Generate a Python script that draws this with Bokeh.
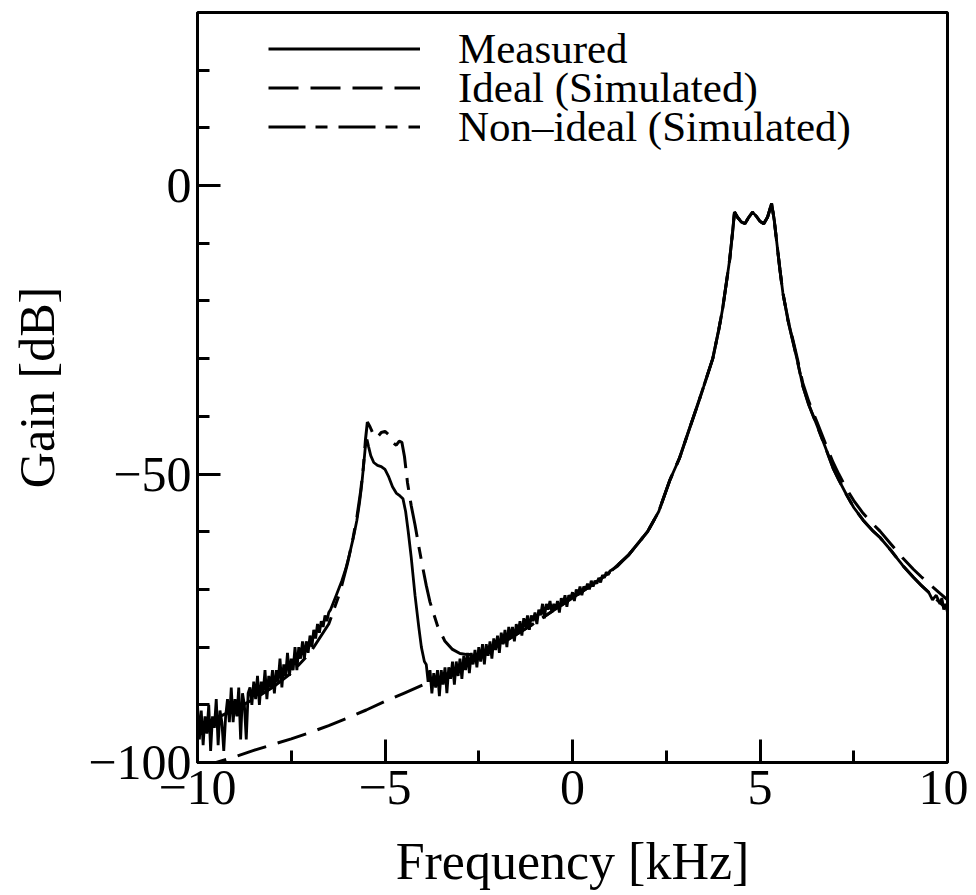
from bokeh.plotting import figure
from bokeh.models import FixedTicker, Legend, LegendItem
from bokeh.embed import file_html
from bokeh.resources import INLINE

# ---------------- data ----------------
x_major = [-10, -5, 0, 5, 10]
x_minor = [-7.5, -2.5, 2.5, 7.5]
x_labels = ["\u221210", "\u22125", "0", "5", "10"]
y_major = [-100, -50, 0]
y_minor = [-90, -80, -70, -60, -40, -30, -20, -10, 10, 20]
y_labels = ["\u2212100", "\u221250", "0"]

series_names = ["Measured", "Ideal (Simulated)", "Non\u2013ideal (Simulated)"]

meas_freq = [
    -10.00, -9.95, -9.90, -9.85, -9.80, -9.75, -9.70, -9.65, -9.60, -9.55,
    -9.50, -9.45, -9.40, -9.35, -9.30, -9.25, -9.20, -9.15, -9.10, -9.05,
    -9.00, -8.95, -8.90, -8.85, -8.80, -8.75, -8.70, -8.65, -8.60, -8.55,
    -8.50, -8.45, -8.40, -8.35, -8.30, -8.25, -8.20, -8.15, -8.10, -8.05,
    -8.00, -7.95, -7.90, -7.85, -7.80, -7.75, -7.70, -7.65, -7.60, -7.55,
    -7.50, -7.45, -7.40, -7.35, -7.30, -7.25, -7.20, -7.15, -7.10, -7.05,
    -7.00, -6.95, -6.90, -6.85, -6.80, -6.75, -6.70, -6.65, -6.60, -6.55,
    -6.50,
    -6.45, -6.30, -6.15, -6.05, -5.95, -5.85, -5.75, -5.68, -5.62, -5.57,
    -5.52, -5.48, -5.44, -5.38, -5.30, -5.20, -5.10, -5.00, -4.90, -4.80,
    -4.70, -4.60, -4.52, -4.45, -4.38, -4.30, -4.20, -4.10, -4.03, -3.95,
    -3.90, -3.85, -3.80, -3.75, -3.70, -3.65, -3.60, -3.55, -3.50, -3.45,
    -3.40, -3.35, -3.30, -3.25, -3.20, -3.15, -3.10, -3.05, -3.00, -2.95,
    -2.90, -2.85, -2.80, -2.75, -2.70, -2.65, -2.60, -2.55, -2.50, -2.45,
    -2.40, -2.35, -2.30, -2.25, -2.20, -2.15, -2.10, -2.05, -2.00, -1.95,
    -1.90, -1.85, -1.80, -1.75, -1.70, -1.65, -1.60, -1.55, -1.50, -1.45,
    -1.40, -1.35, -1.30, -1.25, -1.20, -1.15, -1.10, -1.05, -1.00, -0.95,
    -0.90, -0.85, -0.80, -0.75, -0.70, -0.65, -0.60, -0.55, -0.50, -0.45,
    -0.40, -0.35, -0.30, -0.25, -0.20, -0.15, -0.10, -0.05, 0.00, 0.05,
    0.10, 0.15, 0.20, 0.25, 0.30, 0.35, 0.40, 0.45, 0.50, 0.55,
    0.60, 0.65, 0.70, 0.75, 0.80, 0.85, 0.90, 0.95, 1.00,
    1.20, 1.50, 2.00, 2.30, 2.60, 2.85, 3.10, 3.30, 3.50, 3.74,
    3.90, 4.00, 4.10, 4.19, 4.27, 4.32, 4.40, 4.50, 4.60, 4.70,
    4.80, 4.90, 5.00, 5.10, 5.20, 5.31, 5.38, 5.45, 5.53, 5.61,
    5.75, 5.88, 6.00, 6.14, 6.30, 6.52, 6.75, 6.95, 7.10, 7.30,
    7.50, 7.75, 8.00, 8.20, 8.50, 8.80, 9.09, 9.30, 9.50, 9.60,
    9.70, 9.80, 9.85, 9.90, 9.95, 10.00,
]
meas_gain = [
    -90, -96, -91, -97, -92, -95, -90, -98, -92, -94,
    -89, -97, -91, -93, -98, -92, -89, -93, -87, -93,
    -89, -92, -87, -96, -88, -90, -96, -88, -87, -90,
    -86, -89, -85, -90, -86, -88, -84, -89, -85, -87,
    -84, -88, -84, -86, -82, -87, -83, -85, -81, -85,
    -82, -84, -80, -84, -80, -82, -79, -82, -79, -81,
    -78, -80, -77, -78.5, -76, -77.5, -75.5, -76.5, -74.5, -75.5,
    -74,
    -73.5, -71, -68.5, -66.5, -64, -61.2, -58, -55, -51.8, -48.5,
    -45, -44, -45.2, -46.8, -48, -48.5, -48.7, -49.2, -50.5, -52.2,
    -53.3, -53.8, -54.3, -56.5, -60, -64.5, -71, -76.5, -80, -82.5,
    -83, -86, -84, -88, -84.5, -87, -84, -88.5, -84, -86.5,
    -83.5, -88, -83.5, -85.5, -82.5, -86.5, -82.5, -85, -82, -85.5,
    -81.5, -84, -81, -84.5, -81, -83, -80.5, -83.5, -80, -82.5,
    -79.5, -83, -79.5, -81.5, -79, -82, -78.5, -80.5, -78, -81,
    -77.5, -79.5, -77, -80, -76.5, -78.5, -76.5, -79, -76, -77.5,
    -75.5, -78, -75, -76.5, -74.5, -77, -74.5, -75.5, -74, -76,
    -73.5, -74.5, -72.5, -75, -72.5, -73.5, -72, -74, -72.5, -73.5,
    -72, -74, -71.5, -72.5, -71, -73, -71, -71.5, -70.5, -72,
    -70, -71, -69.5, -71, -69.5, -70, -69, -70, -68.5, -69.5,
    -68.5, -69, -68, -68.8, -67.5, -68, -67, -67.5, -66.8,
    -66, -64, -60, -56.5, -51, -47.3, -42.5, -38.7, -34.8, -30,
    -25, -21.5, -17, -12.9, -8, -4.6, -5.5, -6.3, -6.6, -5.5,
    -4.6, -5.3, -6.2, -6.6, -5.5, -3.1, -6, -10, -14.5, -18.6,
    -23.5, -27.1, -30.5, -34.7, -38, -41.6, -45.5, -49, -51, -53.5,
    -55.8, -58, -59.8, -61, -63.3, -65.8, -67.9, -69.3, -70.5, -71.8,
    -71, -72.5, -71.5, -73.5, -72.5, -74,
]

ideal_freq = [
    -10.0, -9.5, -9.0, -8.5, -8.0, -7.5, -7.0, -6.5, -6.0, -5.5,
    -5.0, -4.5, -4.0, -3.5, -3.0, -2.5, -2.0, -1.5, -1.0, -0.5,
    0.0, 0.5, 1.0, 1.5, 2.0, 2.3, 2.6, 2.85, 3.1, 3.3,
    3.5, 3.74, 3.9, 4.0, 4.1, 4.19, 4.27, 4.32, 4.4, 4.5,
    4.6, 4.7, 4.8, 4.9, 5.0, 5.1, 5.2, 5.31, 5.38, 5.45,
    5.53, 5.61, 5.75, 5.88, 6.0, 6.14, 6.3, 6.52, 6.75, 6.95,
    7.1, 7.3, 7.5, 7.75, 8.0, 8.2, 8.5, 8.8, 9.09, 9.3,
    9.5, 9.8, 10.0,
]
ideal_gain = [
    -101, -100, -99, -97.9, -96.9, -95.9, -94.8, -93.6, -92.3, -90.9,
    -89.4, -88, -86.6, -85.1, -83.5, -81.7, -79.8, -77.8, -75.8, -73.6,
    -71.5, -69.3, -67, -64, -60, -56.5, -51, -47.3, -42.5, -38.7,
    -34.8, -30, -25, -21.5, -17, -12.9, -8, -4.6, -5.5, -6.3,
    -6.6, -5.5, -4.6, -5.3, -6.2, -6.6, -5.5, -3.1, -6, -10,
    -14.5, -18.6, -23.3, -26.8, -30.1, -34.2, -37.4, -41, -44.8, -48,
    -50, -52.5, -54.6, -56.8, -58.6, -59.9, -62.2, -64.5, -66.5, -67.8,
    -69, -70.7, -71.8,
]

nonideal_freq = [
    -10.0, -9.5, -9.0, -8.5, -8.0, -7.5, -7.0, -6.5, -6.2, -6.0,
    -5.85, -5.75, -5.65, -5.58, -5.52, -5.47, -5.4, -5.3, -5.2, -5.1,
    -5.0, -4.9, -4.8, -4.7, -4.62, -4.55, -4.48, -4.4, -4.3, -4.2,
    -4.1, -4.0, -3.9, -3.8, -3.6, -3.4, -3.2, -3.0, -2.8, -2.5,
    -2.0, -1.5, -1.0, -0.5, 0.0, 0.5, 1.0, 1.5, 2.0, 2.3,
    2.6, 2.85, 3.1, 3.3, 3.5, 3.74, 3.9, 4.0, 4.1, 4.19,
    4.27, 4.32, 4.4, 4.5, 4.6, 4.7, 4.8, 4.9, 5.0, 5.1,
    5.2, 5.31, 5.38, 5.45, 5.53, 5.61, 5.75, 5.88, 6.0, 6.14,
    6.3, 6.52, 6.75, 6.95, 7.1, 7.3, 7.5, 7.75, 8.0, 8.2,
    8.5, 8.8, 9.09, 9.3, 9.5, 9.8, 10.0,
]
nonideal_gain = [
    -93.5, -92.3, -90.8, -89, -87, -84.5, -81, -76, -70.5, -65.5,
    -61, -57.5, -53, -49, -44, -41, -41.8, -43.3, -43.6, -42.8,
    -42.6, -43.2, -44.5, -45, -44.3, -44.5, -47, -51.5, -55.5, -58.8,
    -62.5, -66, -69.3, -72.2, -76.3, -79, -80.4, -81.1, -81.3, -81.2,
    -79.8, -77.8, -75.8, -73.6, -71.5, -69.3, -67, -64, -60, -56.5,
    -51, -47.3, -42.5, -38.7, -34.8, -30, -25, -21.5, -17, -12.9,
    -8, -4.6, -5.5, -6.3, -6.6, -5.5, -4.6, -5.3, -6.2, -6.6,
    -5.5, -3.1, -6, -10, -14.5, -18.6, -23.5, -27.1, -30.5, -34.7,
    -38, -41.6, -45.5, -49, -51, -53.5, -55.8, -58, -59.8, -61,
    -63.3, -65.8, -67.9, -69.3, -70.5, -72.3, -73.5,
]

# ---------------- figure ----------------
FONT = "Liberation Serif"

p = figure(
    width=968, height=892,
    x_range=(-10, 10), y_range=(-100, 30),
    output_backend="svg", toolbar_location=None,
    min_border_left=197, min_border_right=21,
    min_border_top=12, min_border_bottom=126,
    x_axis_label="Frequency [kHz]", y_axis_label="Gain [dB]",
)
p.xgrid.visible = False
p.ygrid.visible = False
p.outline_line_color = "black"
p.outline_line_width = 3
p.background_fill_color = "white"
p.border_fill_color = "white"

p.xaxis.ticker = FixedTicker(ticks=x_major, minor_ticks=x_minor)
p.yaxis.ticker = FixedTicker(ticks=y_major, minor_ticks=y_minor)
p.xaxis.major_label_overrides = dict(zip(x_major, x_labels))
p.yaxis.major_label_overrides = dict(zip(y_major, y_labels))

for ax in (p.xaxis[0], p.yaxis[0]):
    ax.axis_line_color = "black"
    ax.axis_line_width = 3
    ax.major_tick_line_color = "black"
    ax.minor_tick_line_color = "black"
    ax.major_tick_line_width = 3
    ax.minor_tick_line_width = 3
    ax.major_tick_in = 23
    ax.major_tick_out = 0
    ax.minor_tick_in = 12
    ax.minor_tick_out = 0
    ax.major_label_text_font = FONT
    ax.major_label_text_font_size = "50px"
    ax.major_label_text_color = "black"
    ax.axis_label_text_font = FONT
    ax.axis_label_text_font_style = "normal"
    ax.axis_label_text_color = "black"

p.xaxis.axis_label_text_font_size = "52px"
p.yaxis.axis_label_text_font_size = "50px"
p.xaxis.major_label_standoff = 8
p.xaxis.axis_label_standoff = 26
p.yaxis.major_label_standoff = 6
p.yaxis.axis_label_standoff = 20

r_ideal = p.line(ideal_freq, ideal_gain, line_color="black", line_width=3,
                 line_dash="30 12")
r_non = p.line(nonideal_freq, nonideal_gain, line_color="black", line_width=3,
               line_dash="37 10 12 11")
r_meas = p.line(meas_freq, meas_gain, line_color="black", line_width=2.8)

# one single-item legend per row, so that the rows sit as close as in the original
legend_rows = [(series_names[0], r_meas, 689),
               (series_names[1], r_ideal, 650),
               (series_names[2], r_non, 611)]
for name, rend, bottom in legend_rows:
    lg = Legend(
        items=[LegendItem(label=name, renderers=[rend])],
        location=(71, bottom),
        orientation="vertical",
        glyph_width=152, glyph_height=39,
        label_height=39, label_standoff=38,
        label_text_font=FONT, label_text_font_size="43px",
        label_text_color="black",
        spacing=0, padding=0, margin=0,
        border_line_color=None, background_fill_alpha=0,
    )
    p.add_layout(lg)

open("out.html", "w").write(file_html(p, INLINE))
